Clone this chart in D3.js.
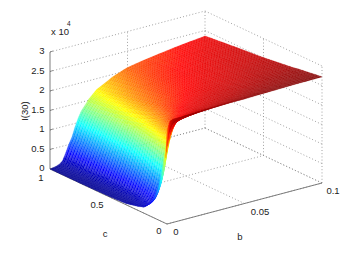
<!DOCTYPE html>
<html>
<head>
    <title>I(30) surface</title>
    <script src="https://d3js.org/d3.v7.min.js"></script>
    <style>
        html, body { margin: 0; padding: 0; background: #fff; }
        text { font-family: "Liberation Sans", sans-serif; font-size: 9.5px; fill: #222; }
    </style>
</head>
<body>
    <svg width="348" height="253"></svg>

    <script>
        const bTicks = [0, 0.05, 0.1];
        const cTicks = [0, 0.5, 1];
        const zTicks = [0, 0.5, 1, 1.5, 2, 2.5, 3];

        // table columns and rows, denser where the surface climbs
        const bValues = [0, .002, .004, .006, .008, .01, .012, .014, .016, .018, .02, .025, .03, .04, .05, .06, .08, .1];
        const cValues = [0, .01, .03, .06, .1, .15, .2, .25, .35, .5, .75, 1];
        // z (x 10^4), one list per c value
        const zC000 = [2.4, 2.62, 2.65, 2.65, 2.65, 2.65, 2.66, 2.66, 2.66, 2.66, 2.67, 2.67, 2.67, 2.68, 2.68, 2.69, 2.71, 2.72];
        const zC001 = [1.7, 2.3, 2.5, 2.56, 2.58, 2.6, 2.6, 2.61, 2.62, 2.62, 2.63, 2.64, 2.65, 2.66, 2.67, 2.69, 2.7, 2.72];
        const zC003 = [1.25, 1.7, 2.2, 2.4, 2.5, 2.52, 2.54, 2.55, 2.56, 2.57, 2.58, 2.59, 2.6, 2.62, 2.64, 2.66, 2.69, 2.71];
        const zC006 = [.85, 1.15, 1.75, 2.15, 2.3, 2.4, 2.44, 2.46, 2.48, 2.49, 2.5, 2.52, 2.54, 2.57, 2.6, 2.63, 2.67, 2.7];
        const zC010 = [.55, .7, 1.0, 1.5, 2.0, 2.25, 2.35, 2.38, 2.4, 2.42, 2.43, 2.46, 2.48, 2.52, 2.56, 2.6, 2.64, 2.68];
        const zC015 = [.3, .33, .4, .55, .8, 1.2, 1.65, 2.0, 2.18, 2.28, 2.33, 2.38, 2.42, 2.47, 2.51, 2.56, 2.62, 2.66];
        const zC020 = [.15, .17, .22, .32, .48, .72, 1.1, 1.55, 1.95, 2.14, 2.24, 2.32, 2.37, 2.43, 2.48, 2.52, 2.59, 2.64];
        const zC025 = [.1, .12, .17, .27, .4, .6, .92, 1.32, 1.72, 1.98, 2.13, 2.26, 2.33, 2.4, 2.45, 2.49, 2.56, 2.61];
        const zC035 = [.03, .04, .07, .13, .28, .5, .76, 1.08, 1.4, 1.65, 1.84, 2.1, 2.22, 2.32, 2.38, 2.43, 2.51, 2.57];
        const zC050 = [.01, .02, .04, .08, .2, .42, .62, .9, 1.15, 1.38, 1.57, 1.9, 2.07, 2.22, 2.3, 2.36, 2.45, 2.51];
        const zC075 = [0, .01, .02, .05, .13, .33, .55, .76, 1.0, 1.2, 1.38, 1.68, 1.9, 2.08, 2.2, 2.27, 2.37, 2.44];
        const zC100 = [0, .01, .03, .06, .12, .3, .5, .66, .9, 1.1, 1.27, 1.53, 1.72, 1.93, 2.08, 2.15, 2.27, 2.36];
        const zRows = [zC000, zC001, zC003, zC006, zC010, zC015, zC020, zC025, zC035, zC050, zC075, zC100];

        const svg = d3.select("svg");

        // oblique 3d projection
        const originX = 167, originY = 224;
        const bX = d3.scaleLinear().domain([0, 0.1]).range([0, 155]);
        const bY = d3.scaleLinear().domain([0, 0.1]).range([0, -41]);
        const cX = d3.scaleLinear().domain([0, 1]).range([0, -117]);
        const cY = d3.scaleLinear().domain([0, 1]).range([0, -55]);
        const zY = d3.scaleLinear().domain([0, 3]).range([0, -117]);
        const px = (b, c) => originX + bX(b) + cX(c);
        const py = (b, c, z) => originY + bY(b) + cY(c) + zY(z);

        const jet = d3.scaleLinear()
            .domain([0, .34, 1.02, 1.7, 2.3, 2.72])
            .range(["#00008f", "#0000ff", "#00ffff", "#ffff00", "#ff0000", "#800000"])
            .clamp(true);

        // back walls and floor grid
        const gridLines = [];
        zTicks.forEach(z => {
            gridLines.push([[0, 1, z], [0.1, 1, z]]);
            gridLines.push([[0.1, 1, z], [0.1, 0, z]]);
        });
        bTicks.forEach(b => {
            gridLines.push([[b, 0, 0], [b, 1, 0]]);
            if (b > 0) gridLines.push([[b, 1, 0], [b, 1, 3]]);
        });
        cTicks.forEach(c => {
            gridLines.push([[0, c, 0], [0.1, c, 0]]);
            if (c < 1) gridLines.push([[0.1, c, 0], [0.1, c, 3]]);
        });

        svg.append("g").selectAll("line")
            .data(gridLines)
            .enter().append("line")
            .attr("x1", d => px(d[0][0], d[0][1]))
            .attr("y1", d => py(d[0][0], d[0][1], d[0][2]))
            .attr("x2", d => px(d[1][0], d[1][1]))
            .attr("y2", d => py(d[1][0], d[1][1], d[1][2]))
            .attr("stroke", "#8a8a8a")
            .attr("stroke-width", 0.8)
            .attr("stroke-dasharray", "1 2.2");

        // solid axes
        const axisLines = [
            [[0, 1, 0], [0, 1, 3]],
            [[0, 1, 0], [0, 0, 0]],
            [[0, 0, 0], [0.1, 0, 0]]
        ];
        svg.append("g").selectAll("line")
            .data(axisLines)
            .enter().append("line")
            .attr("x1", d => px(d[0][0], d[0][1]))
            .attr("y1", d => py(d[0][0], d[0][1], d[0][2]))
            .attr("x2", d => px(d[1][0], d[1][1]))
            .attr("y2", d => py(d[1][0], d[1][1], d[1][2]))
            .attr("stroke", "#707070")
            .attr("stroke-width", 0.9);

        svg.append("g").selectAll("line")
            .data(zTicks)
            .enter().append("line")
            .attr("x1", px(0, 1))
            .attr("x2", px(0, 1) + 3)
            .attr("y1", d => py(0, 1, d))
            .attr("y2", d => py(0, 1, d) - 1)
            .attr("stroke", "#707070")
            .attr("stroke-width", 0.8);

        // shading: the table is sampled finer only to paint it, like interpolated surf shading
        const meshRows = 90, colSteps = 4;
        const rowPos = d3.scaleLinear().domain(cValues).range(cValues.map((d, i) => i));
        const samplePoint = (c, u) => {
            const v = rowPos(c);
            const r = Math.min(Math.floor(v), cValues.length - 2);
            const k = Math.min(Math.floor(u), bValues.length - 2);
            const ku = u - k, rv = v - r;
            const b = bValues[k] + (bValues[k + 1] - bValues[k]) * ku;
            const lo = zRows[r][k] + (zRows[r][k + 1] - zRows[r][k]) * ku;
            const hi = zRows[r + 1][k] + (zRows[r + 1][k + 1] - zRows[r + 1][k]) * ku;
            const z = lo + (hi - lo) * rv;
            return { x: px(b, c), y: py(b, c, z), z: z };
        };

        // painted far to near
        const cells = [];
        const lastU = (bValues.length - 1) * colSteps;
        for (let i = lastU - 1; i >= 0; i--) {
            for (let j = meshRows - 1; j >= 0; j--) {
                const u0 = i / colSteps, u1 = (i + 1) / colSteps;
                const c0 = j / meshRows, c1 = (j + 1) / meshRows;
                const p = [samplePoint(c0, u0), samplePoint(c0, u1), samplePoint(c1, u1), samplePoint(c1, u0)];
                cells.push({ p: p, z: d3.mean(p, d => d.z), row: j });
            }
        }

        const surfacePath = d => "M" + d.p.map(q => q.x.toFixed(2) + "," + q.y.toFixed(2)).join("L") + "Z";
        const cellColor = d => {
            const col = d3.rgb(jet(d.z));
            // every other mesh row comes out paler, the white showing between mesh lines
            const pale = d.z < 0.2 ? 0.05 : d.z < 1.5 ? 0.2 : 0.07;
            return d.row % 2 ? d3.interpolateRgb(col, "#fff")(pale) : col.formatRgb();
        };
        svg.append("g").selectAll("path")
            .data(cells)
            .enter().append("path")
            .attr("d", surfacePath)
            .attr("fill", cellColor)
            .attr("stroke", cellColor)
            .attr("stroke-width", 0.2);

        // tick labels
        svg.append("g").selectAll("text")
            .data(zTicks)
            .enter().append("text")
            .attr("x", 44.5)
            .attr("y", d => py(0, 1, d) + 2)
            .attr("text-anchor", "end")
            .text(d => d);

        const cLabelPos = [[159, 234], [97, 208], [41, 181]];
        svg.append("g").selectAll("text")
            .data(cTicks)
            .enter().append("text")
            .attr("x", (d, i) => cLabelPos[i][0])
            .attr("y", (d, i) => cLabelPos[i][1])
            .attr("text-anchor", "middle")
            .text(d => d);

        const bLabelPos = [[176, 235], [260, 215], [333, 194]];
        svg.append("g").selectAll("text")
            .data(bTicks)
            .enter().append("text")
            .attr("x", (d, i) => bLabelPos[i][0])
            .attr("y", (d, i) => bLabelPos[i][1])
            .attr("text-anchor", "middle")
            .text(d => d);

        svg.append("text").attr("x", 105).attr("y", 237).attr("text-anchor", "middle").text("c");
        svg.append("text").attr("x", 240).attr("y", 240).attr("text-anchor", "middle").text("b");
        svg.append("text").attr("x", 51).attr("y", 35).text("x 10");
        svg.append("text").attr("x", 67).attr("y", 26).style("font-size", "6.5px").text("4");
        svg.append("text")
            .attr("transform", "translate(28,111) rotate(-90)")
            .attr("text-anchor", "middle")
            .text("I(30)");
    </script>
</body>
</html>
